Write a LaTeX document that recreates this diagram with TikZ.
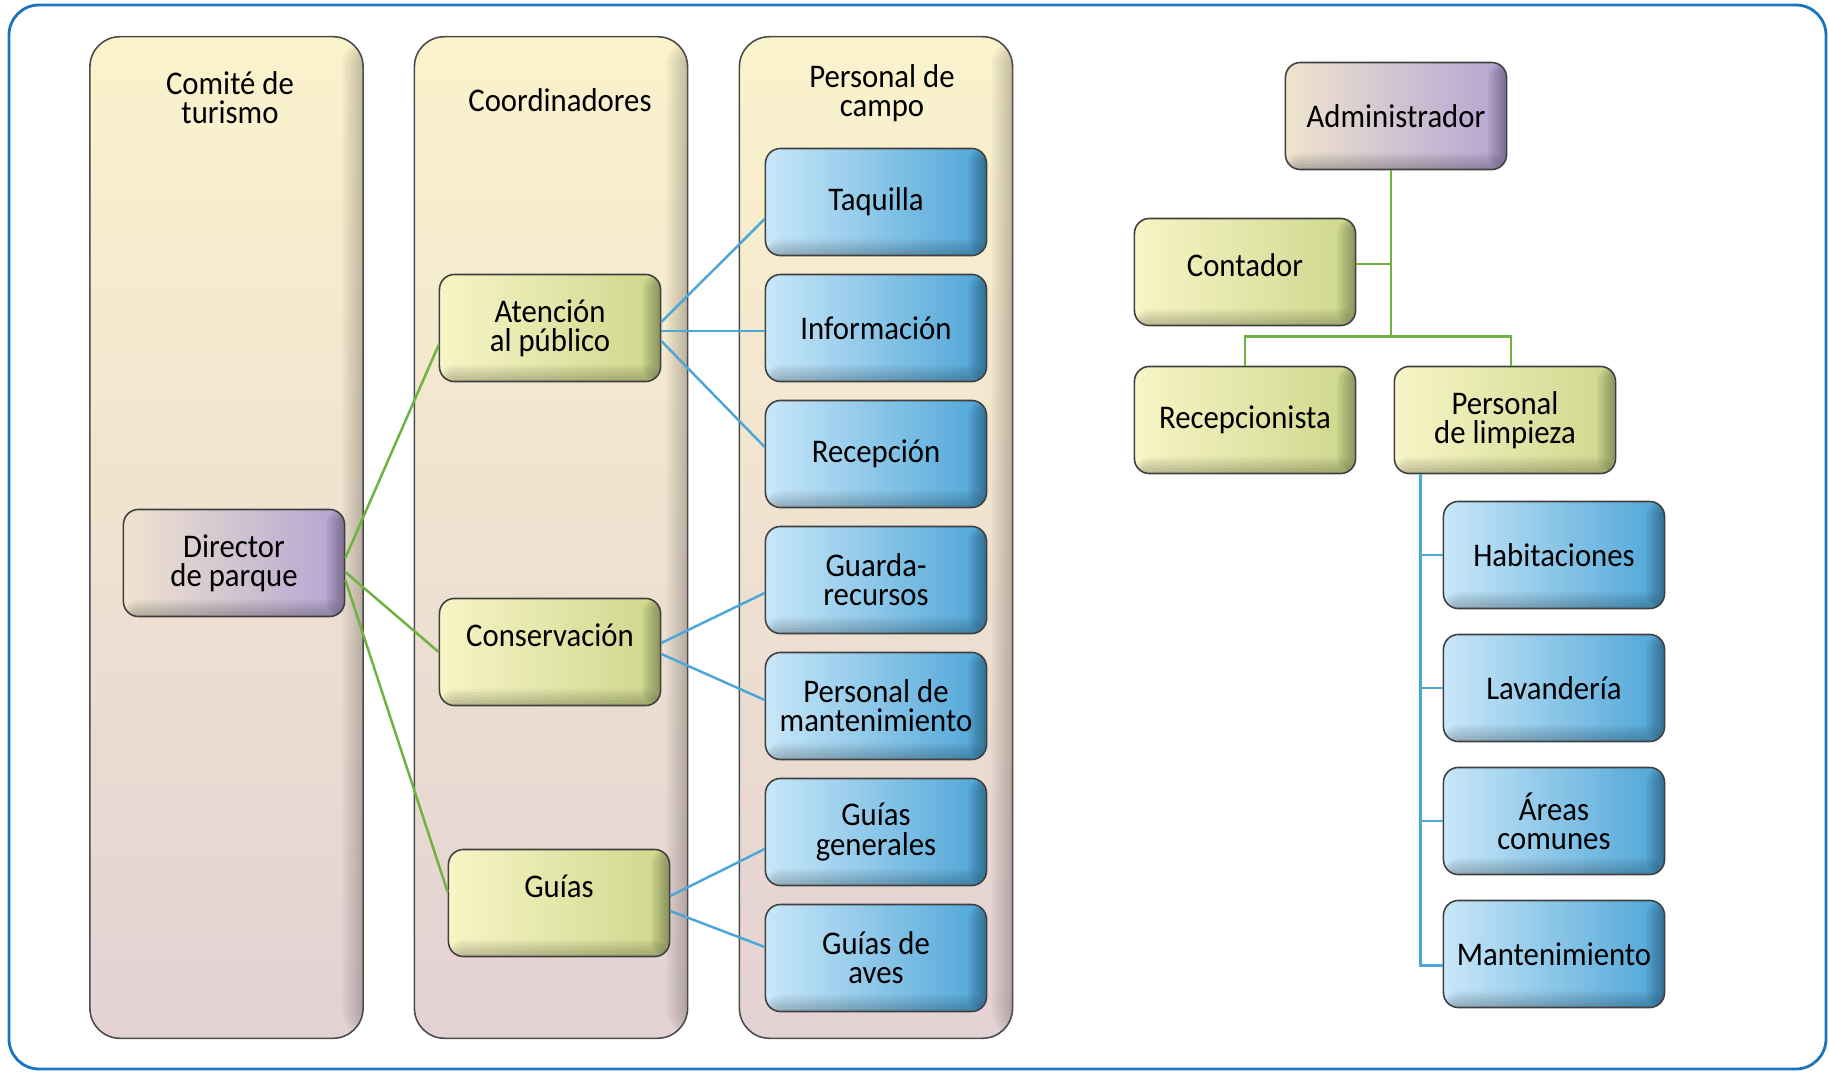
\documentclass[tikz,border=0pt]{standalone}
\usepackage{fontspec}
\setmainfont[FakeStretch=0.93]{Carlito}
\usepackage{xcolor}
\usepackage{tikz}
\usetikzlibrary{positioning}

\definecolor{frameblue}{HTML}{1C74BC}
\definecolor{panelTop}{HTML}{FBF3CC}
\definecolor{panelBot}{HTML}{E3D1D4}
\definecolor{linkgreen}{HTML}{6DB33F}
\definecolor{linkblue}{HTML}{4BA7D8}
\definecolor{ylA}{HTML}{F8F5C6}
\definecolor{ylB}{HTML}{CDD78B}
\definecolor{blA}{HTML}{C9E7F9}
\definecolor{blB}{HTML}{4DA5D7}
\definecolor{puA}{HTML}{EFE4CE}
\definecolor{puB}{HTML}{B4A3D3}

\tikzset{
  txt/.style={font=\fontsize{9.4}{8.3}\selectfont, align=center},
  panel/.style={draw=black!70, line width=0.45pt, rounded corners=0.3cm,
    top color=panelTop, bottom color=panelBot,
    minimum width=2.73cm, minimum height=10.01cm,
    path picture={\foreach \k in {1,...,7}{
      \fill[black, fill opacity=0.03]
        ([xshift=-\k*0.03cm]path picture bounding box.north east) rectangle (path picture bounding box.south east);}}},
  box/.style={txt, draw=black!75, line width=0.45pt, rounded corners=0.15cm,
    minimum width=2.21cm, minimum height=1.07cm, inner sep=1pt,
    path picture={\foreach \k in {1,...,6}{
      \fill[black, fill opacity=0.055]
        ([xshift=-\k*0.03cm]path picture bounding box.north east) rectangle (path picture bounding box.south east);
      \fill[black, fill opacity=0.04]
        ([yshift=\k*0.027cm]path picture bounding box.south west) rectangle (path picture bounding box.south east);}}},
  yellowbox/.style={box, left color=ylA, right color=ylB},
  bluebox/.style={box, left color=blA, right color=blB},
  purplebox/.style={box, left color=puA, right color=puB},
  glink/.style={draw=linkgreen, line width=0.7pt},
  blink/.style={draw=linkblue, line width=0.7pt}
}

\begin{document}
\begin{tikzpicture}[x=0.01cm, y=-0.01cm]
    \useasboundingbox (0,0) rectangle (1829,1073);

    % outer frame
    \draw[frameblue, line width=0.8pt, rounded corners=0.3cm] (9,5) rectangle (1826,1069);

    % Columns of the park organisation
    \node[panel] (comite) at (226.5,537.5) {};
    \node[panel] (coord) at (551,537.5) {};
    \node[panel] (campo) at (876,537.5) {};
    \node[txt] (tcomite) at (230,98) {Comité de\\turismo};
    \node[txt] (tcoord) at (560,100) {Coordinadores};
    \node[txt] (tcampo) at (882,93) {Personal de\\campo};

    % Director and coordinators
    \node[purplebox] (director) at (234,563) {Director\\de parque};
    \node[yellowbox] (atencion) at (550,328) {Atención\\al público};
    \node[yellowbox, text depth=0.33cm] (conserv) at (550,652) {Conservación};
    \node[yellowbox, text depth=0.33cm] (guias) at (559,903) {Guías};

    % Field staff
    \node[bluebox] (taquilla) at (876,202) {Taquilla};
    \node[bluebox] (info) at (876,328) {Información};
    \node[bluebox] (recepcion) at (876,454) {Recepción};
    \node[bluebox] (guarda) at (876,580) {Guarda-\\recursos};
    \node[bluebox] (mantper) at (876,706) {Personal de\\mantenimiento};
    \node[bluebox] (ggen) at (876,832) {Guías\\generales};
    \node[bluebox] (gaves) at (876,958) {Guías de\\aves};

    % Links director -> coordinators
    \draw[glink] ([yshift=0.05cm]director.east) -- ([yshift=-0.17cm]atencion.west);
    \draw[glink] ([yshift=-0.09cm]director.east) -- (conserv.west);
    \draw[glink] ([yshift=-0.17cm]director.east) -- ([yshift=0.11cm]guias.west);

    % Links coordinators -> field staff
    \draw[blink] ([yshift=0.06cm]atencion.east) -- ([yshift=-0.17cm]taquilla.west);
    \draw[blink] ([yshift=-0.03cm]atencion.east) -- ([yshift=-0.03cm]info.west);
    \draw[blink] ([yshift=-0.13cm]atencion.east) -- ([yshift=0.07cm]recepcion.west);
    \draw[blink] ([yshift=0.09cm]conserv.east) -- ([yshift=-0.13cm]guarda.west);
    \draw[blink] ([yshift=-0.02cm]conserv.east) -- ([yshift=0.06cm]mantper.west);
    \draw[blink] ([yshift=0.07cm]guias.east) -- ([yshift=-0.17cm]ggen.west);
    \draw[blink] ([yshift=-0.08cm]guias.east) -- ([yshift=0.11cm]gaves.west);

    % Hotel organisation
    \node[purplebox] (admin) at (1396,116) {Administrador};
    \node[yellowbox, text depth=0.13cm] (contador) at (1245,272) {Contador};
    \node[yellowbox] (recepcionista) at (1245,420) {Recepcionista};
    \node[yellowbox] (limpieza) at (1505,420) {Personal\\de limpieza};

    \node[bluebox] (habit) at (1554,555) {Habitaciones};
    \node[bluebox] (lavand) at (1554,688) {Lavandería};
    \node[bluebox] (areas) at (1554,821) {Áreas\\comunes};
    \node[bluebox] (manten) at (1554,954) {Mantenimiento};

    % Tree links
    \coordinate (atop) at ([xshift=-0.05cm]admin.south);
    \draw[glink] (atop) |- ([yshift=0.08cm]contador.east);
    \draw[glink] (atop) -- ++(0,166) -| (recepcionista.north);
    \draw[glink] (atop) -- ++(0,166) -| ([xshift=0.06cm]limpieza.north);

    \coordinate (lspine) at ([xshift=0.27cm]limpieza.south west);
    \draw[blink] (lspine) |- ([yshift=-0.115cm]manten.west);
    \draw[blink] (lspine |- habit.west) -- (habit.west);
    \draw[blink] (lspine |- lavand.west) -- (lavand.west);
    \draw[blink] (lspine |- areas.west) -- (areas.west);
\end{tikzpicture}
\end{document}
